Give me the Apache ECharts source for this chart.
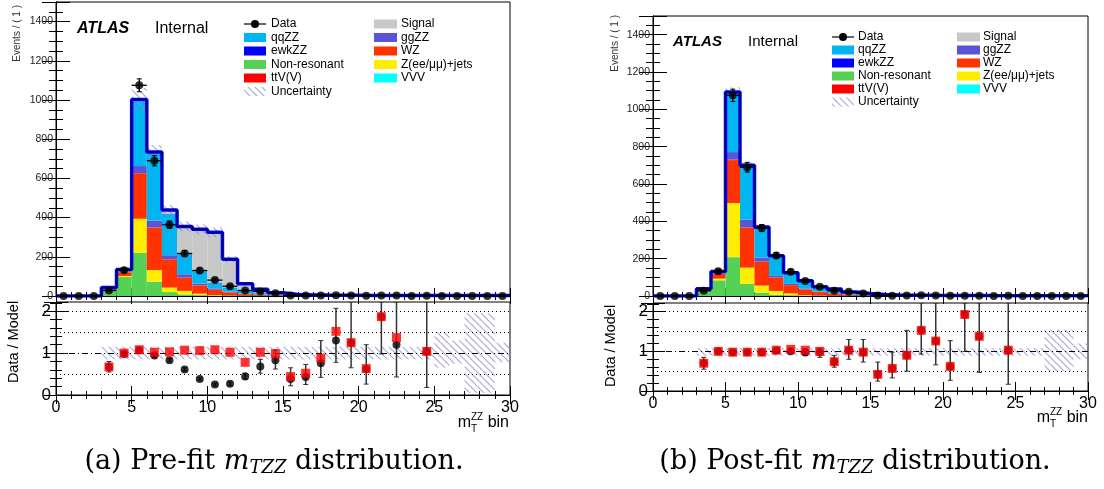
<!DOCTYPE html>
<html>
<head>
<meta charset="utf-8">
<script src="https://cdn.jsdelivr.net/npm/echarts@6/dist/echarts.min.js"></script>
<style>
  html, body { margin: 0; background: #fff; }
  #main { width: 1104px; height: 489px; }
</style>
</head>
<body>
<div id="main"></div>
<script>
// bin index (lower edge of each m_T^ZZ bin)
const bins = [0,1,2,3,4,5,6,7,8,9,10,11,12,13,14,15,16,17,18,19,20,21,22,23,24,25,26,27,28,29];

// ---- pre-fit stack (left) ----
const preNonRes = [0,0,0,27,97,220,73,20,8,4,2,1,0,0,0,0,0,0,0,0,0,0,0,0,0,0,0,0,0,0];
const preZjets  = [0,0,0,2,5,174,59,23,18,8,3,2,1,1,0,0,0,0,0,0,0,0,0,0,0,0,0,0,0,0];
const preWZ     = [0,0,0,5,18,230,216,143,66,42,26,15,8,4,2,1,0.5,0.5,0.3,0.3,0.2,0.2,0.2,0.1,0.1,0.1,0.1,0.1,0.1,0.1];
const preTtV    = [0,0,0,1,2,3,2,2,2,1,1,1,1,0.5,0.5,0,0,0,0,0,0,0,0,0,0,0,0,0,0,0];
const preGgZZ   = [0,0,0,1,3,36,35,20,17,8,7,4,2,1,0.5,0.5,0.3,0.2,0.2,0.1,0.1,0.1,0.1,0.1,0.1,0.1,0.1,0.1,0.1,0.1];
const preQqZZ   = [0,0,0,6,8,328,340,209,101,64,29,20,14,8,5,3,2,1.5,1,1,0.8,0.7,0.6,0.5,0.5,0.4,0.4,0.3,0.3,0.3];
const preEwkZZ  = [0,0,0,0.5,1,2,3,2,2,1,1,1,1,0.5,0.5,0.5,0.3,0.3,0.3,0.3,0.3,0.3,0.3,0.3,0.3,0.3,0.3,0.3,0.3,0.3];
const preVVV    = [0,0,0,0,0,0,0,0,0,0,0,0,0,0,0,0,0,0,0,0,0,0,0,0,0,0,0,0,0,0];
const preSignal = [0,0,0,0.5,1,10,7,20,141,212,256,144,36,19,8.5,2.5,2.2,2,2,2,1.5,1.5,1.5,1.5,1.5,1.6,1.6,1.7,1.7,1.7];
const preUnc    = [0,0,0,5,10,60,35,25,25,25,25,15,8,5,3,2,2,2,2,2,2,2,2,2,2,2,2,2,2,2];

// ---- post-fit stack (right) ----
const postNonRes = [0,0,0,21,84,208,65,18,6,3,1,1,0,0,0,0,0,0,0,0,0,0,0,0,0,0,0,0,0,0];
const postZjets  = [0,0,0,2,9,290,87,38,21,11,4,2,1,1,0,0,0,0,0,0,0,0,0,0,0,0,0,0,0,0];
const postWZ     = [0,0,0,6,25,230,213,127,70,44,30,18,10,5,3,1.5,0.8,0.6,0.4,0.3,0.2,0.2,0.2,0.1,0.1,0.1,0.1,0.1,0.1,0.1];
const postTtV    = [0,0,0,1,2,3,2,2,2,1,1,1,1,0.5,0.5,0,0,0,0,0,0,0,0,0,0,0,0,0,0,0];
const postGgZZ   = [0,0,0,1,3,40,42,21,12,6,3,2,2,1,0.5,0.5,0.3,0.2,0.2,0.1,0.1,0.1,0.1,0.1,0.1,0.1,0.1,0.1,0.1,0.1];
const postQqZZ   = [0,0,0,7,7,320,289,161,102,59,42,25,22,13,9.5,5,4,3,2.5,2,1.5,1.5,1.5,1,1,1,1,1,1,1];
const postEwkZZ  = [0,0,0,1,1,2,3,2,2,1,1,1,1,0.5,0.5,0.5,0.3,0.3,0.3,0.3,0.3,0.3,0.3,0.3,0.3,0.3,0.3,0.3,0.3,0.3];
const postVVV    = [0,0,0,0,0,0,0,0,0,0,0,0,0,0,0,0,0,0,0,0,0,0,0,0,0,0,0,0,0,0];
const postSignal = [0,0,0,0,0,0,0,0,0,0,0,0,0,0,0,0,0,0,0,0,0,0,0,0,0,0,0,0,0,0];
const postUnc    = [0,0,0,3,6,25,15,10,8,6,5,4,3,2,2,1,1,1,1,1,1,1,1,1,1,1,1,1,1,1];

// ---- data ----
const dataVal = [0,0,0,28,132,1075,690,364,217,130,81,50,28,23,14,3,2,3,4,3,1,2,2,0,1,0,0,0,0,0];
const dataErr = [0,0,0,5,12,33,26,19,15,11,9,7,5,5,4,2,1.5,2,2,2,1,1.5,1.5,0,1,0,0,0,0,0];

// ---- ratio panels ----
const preRatioData = [null,null,null,0.67,0.98,1.07,0.94,0.83,0.61,0.38,0.25,0.27,0.44,0.68,0.83,0.38,0.43,0.76,1.30,1.25,0.62,1.87,1.20,null,1.04,null,null,null,null,null];
const preRatioLo   = [null,null,null,0.55,0.94,1.04,0.90,0.79,0.57,0.35,0.22,0.23,0.38,0.52,0.62,0.22,0.25,0.42,0.78,0.65,0.26,0.98,0.43,null,0.18,null,null,null,null,null];
const preRatioHi   = [null,null,null,0.80,1.03,1.10,0.98,0.87,0.65,0.41,0.28,0.31,0.52,0.85,1.08,0.65,0.73,1.30,2.07,2.22,1.20,2.22,2.22,null,2.22,null,null,null,null,null];
const preRatioPost = [null,null,null,0.67,1.00,1.08,1.02,1.03,1.07,1.06,1.08,1.02,0.78,1.02,0.98,0.44,0.52,0.88,1.52,1.25,0.63,1.87,1.37,null,1.04,null,null,null,null,null];
const preBandLo    = [null,null,null,0.85,0.85,0.85,0.85,0.85,0.85,0.85,0.85,0.85,0.85,0.85,0.85,0.85,0.85,0.85,0.85,0.85,0.85,0.85,0.85,0.85,0.85,0.65,0.75,0.05,0.05,0.78];
const preBandHi    = [null,null,null,1.15,1.15,1.15,1.15,1.15,1.15,1.15,1.15,1.15,1.15,1.15,1.15,1.15,1.15,1.15,1.15,1.15,1.15,1.15,1.15,1.15,1.15,1.50,1.30,1.95,1.95,1.25];

const postRatioData = [null,null,null,0.70,1.00,0.98,0.98,0.98,1.02,1.00,0.97,0.98,0.74,1.03,0.98,0.42,0.57,0.90,1.53,1.26,0.62,1.93,1.38,null,1.03,null,null,null,null,null];
const postRatioLo   = [null,null,null,0.55,0.96,0.95,0.95,0.94,0.98,0.96,0.90,0.85,0.60,0.80,0.73,0.25,0.33,0.50,0.93,0.66,0.27,1.00,0.47,null,0.17,null,null,null,null,null];
const postRatioHi   = [null,null,null,0.85,1.04,1.01,1.01,1.02,1.07,1.08,1.07,1.08,0.90,1.30,1.30,0.73,0.98,1.53,2.22,2.22,1.27,2.22,2.22,null,2.22,null,null,null,null,null];
const postRatioPost = [null,null,null,0.70,1.00,0.98,0.98,0.98,1.03,1.05,1.03,1.00,0.74,1.03,0.98,0.42,0.57,0.90,1.53,1.26,0.62,1.93,1.38,null,1.03,null,null,null,null,null];
const postBandLo    = [null,null,null,0.89,0.89,0.89,0.89,0.89,0.89,0.89,0.89,0.89,0.89,0.89,0.89,0.89,0.89,0.89,0.89,0.89,0.89,0.89,0.89,0.89,0.89,0.89,0.89,0.50,0.50,0.80];
const postBandHi    = [null,null,null,1.08,1.08,1.08,1.08,1.08,1.08,1.08,1.08,1.08,1.08,1.08,1.08,1.08,1.08,1.08,1.08,1.08,1.08,1.08,1.08,1.08,1.08,1.08,1.08,1.55,1.55,1.20];

const procNames  = ['Non-resonant', 'Z(ee/μμ)+jets', 'WZ', 'ttV(V)', 'ggZZ', 'qqZZ', 'ewkZZ', 'VVV', 'Signal'];
const procColors = ['#55d155', '#ffee00', '#ff3300', '#ff0000', '#5a54d8', '#00b5f0', '#0000ff', '#00ffff', '#c8c8c8'];

const FONT = 'Liberation Sans, Arial, sans-serif';

// hatch pattern for uncertainty
function makeHatch() {
    const s = 7;
    const c = document.createElement('canvas');
    c.width = s; c.height = s;
    const g = c.getContext('2d');
    g.strokeStyle = 'rgba(140,140,205,0.75)';
    g.lineWidth = 1.2;
    [-s, 0, s].forEach(k => {
        g.beginPath(); g.moveTo(k, 0); g.lineTo(k + s, s); g.stroke();
    });
    return c;
}
const hatch = { image: makeHatch(), repeat: 'repeat' };

function binRect(fill) {
    return function (params, api) {
        const i = api.value(0), a = api.value(1), b = api.value(2);
        if (!(b > a)) return;
        const p0 = api.coord([i, a]), p1 = api.coord([i + 1, b]);
        return {
            type: 'rect',
            shape: { x: p0[0], y: p1[1], width: p1[0] - p0[0], height: p0[1] - p1[1] },
            style: { fill: fill }
        };
    };
}

function errBars(color, lw, cap) {
    return function (params, api) {
        const x = api.value(0), y = api.value(1), lo = api.value(2), hi = api.value(3), hw = api.value(4);
        const c = api.coord([x, y]);
        const kids = [];
        if (hi > lo) {
            const l = api.coord([x, lo]), h = api.coord([x, hi]);
            kids.push({ type: 'line', shape: { x1: c[0], y1: l[1], x2: c[0], y2: h[1] }, style: { stroke: color, lineWidth: lw } });
            if (cap) {
                kids.push({ type: 'line', shape: { x1: c[0] - cap, y1: l[1], x2: c[0] + cap, y2: l[1] }, style: { stroke: color, lineWidth: 1 } });
                kids.push({ type: 'line', shape: { x1: c[0] - cap, y1: h[1], x2: c[0] + cap, y2: h[1] }, style: { stroke: color, lineWidth: 1 } });
            }
        }
        if (hw > 0) {
            const a = api.coord([x - hw, y]), b = api.coord([x + hw, y]);
            kids.push({ type: 'line', shape: { x1: a[0], y1: a[1], x2: b[0], y2: b[1] }, style: { stroke: color, lineWidth: lw } });
        }
        return { type: 'group', children: kids };
    };
}

const option = {
    animation: false,
    grid: [], xAxis: [], yAxis: [], series: [], graphic: []
};

function addAxes(grid, up) {
    const gi = option.grid.length;
    option.grid.push(Object.assign({ show: true, borderColor: '#000', borderWidth: 1, backgroundColor: 'transparent' }, grid));
    const xBase = {
        gridIndex: gi, type: 'value', min: 0, max: 30, interval: 5,
        axisLine: { show: true, lineStyle: { color: '#000', width: 1 } },
        splitLine: { show: false },
        axisTick: { inside: true, length: up ? 8 : 9, lineStyle: { color: '#000' } },
        minorTick: { show: true, splitNumber: 5, length: 4, lineStyle: { color: '#000' } }
    };
    const xi = option.xAxis.length;
    option.xAxis.push(Object.assign({}, xBase, {
        position: 'bottom',
        axisLabel: up ? { show: false } : { show: true, fontSize: 16, fontFamily: FONT, color: '#000', margin: 5 }
    }));
    option.xAxis.push(Object.assign({}, xBase, { position: 'top', axisLabel: { show: false } }));

    const yBase = up ? {
        gridIndex: gi, type: 'value', min: 0, max: 1500, interval: 200,
        axisLine: { show: true, lineStyle: { color: '#000' } },
        splitLine: { show: false },
        axisTick: { inside: true, length: 14, lineStyle: { color: '#000' } },
        minorTick: { show: true, splitNumber: 4, length: 7, lineStyle: { color: '#000' } }
    } : {
        gridIndex: gi, type: 'value', min: 0, max: 2.22, interval: 1,
        axisLine: { show: true, lineStyle: { color: '#000' } },
        splitLine: { show: false },
        axisTick: { inside: true, length: 12, lineStyle: { color: '#000' } },
        minorTick: { show: true, splitNumber: 5, length: 6, lineStyle: { color: '#000' } }
    };
    const yi = option.yAxis.length;
    option.yAxis.push(Object.assign({}, yBase, {
        position: 'left',
        axisLabel: up
            ? { fontSize: 10.5, fontFamily: FONT, color: '#222', margin: 3, formatter: v => (v % 200 === 0 ? String(v) : '') }
            : { fontSize: 17, fontFamily: FONT, color: '#000', margin: 5, formatter: v => (Math.abs(v - Math.round(v)) < 1e-6 ? String(Math.round(v)) : '') }
    }));
    option.yAxis.push(Object.assign({}, yBase, { position: 'right', axisLabel: { show: false } }));
    return { xi, yi };
}

function buildPanel(cfg) {
    const up = addAxes(cfg.upGrid, true);
    const lo = addAxes(cfg.loGrid, false);

    // stacked histogram
    const base = bins.map(() => 0);
    cfg.stack.forEach((arr, k) => {
        const data = bins.map(i => [i, base[i], base[i] + arr[i]]);
        bins.forEach(i => { base[i] += arr[i]; });
        option.series.push({
            type: 'custom', name: procNames[k], xAxisIndex: up.xi, yAxisIndex: up.yi,
            renderItem: binRect(procColors[k]), encode: { x: 0, y: [1, 2] },
            data: data, z: 2, silent: true
        });
    });
    const total = base.slice();

    // uncertainty hatch
    option.series.push({
        type: 'custom', xAxisIndex: up.xi, yAxisIndex: up.yi,
        renderItem: binRect(hatch), encode: { x: 0, y: [1, 2] },
        data: bins.filter(i => cfg.unc[i] > 0).map(i => [i, total[i] - cfg.unc[i], total[i] + cfg.unc[i]]),
        z: 3, silent: true
    });

    // outline of the total
    const stepData = bins.map(i => [i, total[i]]).concat([[30, total[29]]]);
    option.series.push({
        type: 'line', xAxisIndex: up.xi, yAxisIndex: up.yi, step: 'end', symbol: 'none',
        data: stepData, lineStyle: { color: '#0000ff', width: 3.5 }, z: 4, silent: true
    });
    option.series.push({
        type: 'line', xAxisIndex: up.xi, yAxisIndex: up.yi, step: 'end', symbol: 'none',
        data: stepData, lineStyle: { color: '#000', width: 0.8 }, z: 4, silent: true
    });

    // data with error bars
    option.series.push({
        type: 'custom', xAxisIndex: up.xi, yAxisIndex: up.yi,
        renderItem: errBars('#000', 1.3, 2.5), encode: { x: 0, y: 1 },
        data: bins.map(i => [i + 0.5, dataVal[i], dataVal[i] - dataErr[i], dataVal[i] + dataErr[i], 0.5]),
        z: 5, silent: true
    });
    option.series.push({
        type: 'scatter', xAxisIndex: up.xi, yAxisIndex: up.yi, symbol: 'circle', symbolSize: 8,
        itemStyle: { color: '#000' }, data: bins.map(i => [i + 0.5, dataVal[i]]), z: 6, silent: true
    });

    // ratio band + reference lines
    option.series.push({
        type: 'custom', xAxisIndex: lo.xi, yAxisIndex: lo.yi,
        renderItem: binRect(hatch), encode: { x: 0, y: [1, 2] },
        data: bins.filter(i => cfg.bandLo[i] !== null).map(i => [i, cfg.bandLo[i], cfg.bandHi[i]]),
        z: 2, silent: true,
        markLine: {
            silent: true, symbol: 'none', label: { show: false }, animation: false,
            data: [
                { yAxis: 0.5, lineStyle: { color: '#000', width: 1, type: [1, 3] } },
                { yAxis: 1.5, lineStyle: { color: '#000', width: 1, type: [1, 3] } },
                { yAxis: 2, lineStyle: { color: '#000', width: 1, type: [1, 3] } },
                { yAxis: 1, lineStyle: { color: '#000', width: 1, type: [6, 3, 1, 3] } }
            ]
        }
    });
    const ok = bins.filter(i => cfg.ratio[i] !== null);
    option.series.push({
        type: 'custom', xAxisIndex: lo.xi, yAxisIndex: lo.yi, clip: true,
        renderItem: errBars('#333', 1.5, 2.5), encode: { x: 0, y: 1 },
        data: ok.map(i => [i + 0.5, cfg.ratio[i], cfg.ratioLo[i], cfg.ratioHi[i], 0]),
        z: 4, silent: true
    });
    option.series.push({
        type: 'scatter', xAxisIndex: lo.xi, yAxisIndex: lo.yi, symbol: 'circle', symbolSize: 8,
        itemStyle: { color: '#000' }, data: ok.map(i => [i + 0.5, cfg.ratio[i]]), z: 5, silent: true
    });
    option.series.push({
        type: 'scatter', xAxisIndex: lo.xi, yAxisIndex: lo.yi, symbol: 'rect', symbolSize: 9,
        itemStyle: { color: '#ff0000' }, data: ok.map(i => [i + 0.5, cfg.ratioPost[i]]), z: 6, silent: true
    });
}

buildPanel({
    upGrid: { left: 56, top: 2, width: 454, height: 294 },
    loGrid: { left: 56, top: 302, width: 454, height: 93 },
    stack: [preNonRes, preZjets, preWZ, preTtV, preGgZZ, preQqZZ, preEwkZZ, preVVV, preSignal],
    unc: preUnc, ratio: preRatioData, ratioLo: preRatioLo, ratioHi: preRatioHi, ratioPost: preRatioPost,
    bandLo: preBandLo, bandHi: preBandHi
});
buildPanel({
    upGrid: { left: 653, top: 16, width: 435, height: 280 },
    loGrid: { left: 653, top: 303, width: 435, height: 88 },
    stack: [postNonRes, postZjets, postWZ, postTtV, postGgZZ, postQqZZ, postEwkZZ, postVVV, postSignal],
    unc: postUnc, ratio: postRatioData, ratioLo: postRatioLo, ratioHi: postRatioHi, ratioPost: postRatioPost,
    bandLo: postBandLo, bandHi: postBandHi
});

// ---- texts / legends ----
const mctx = document.createElement('canvas').getContext('2d');
function textRow(parts, x, y, anchor) {
    let w = 0;
    parts.forEach(p => {
        mctx.font = (p.style || 'normal') + ' ' + (p.weight || 'normal') + ' ' + p.size + 'px ' + p.family;
        p.w = mctx.measureText(p.t).width;
        w += p.w;
    });
    let cx = anchor === 'right' ? x - w : anchor === 'center' ? x - w / 2 : x;
    return parts.map(p => {
        const el = {
            type: 'text', x: cx, y: y + (p.dy || 0), silent: true,
            style: {
                text: p.t, fontSize: p.size, fontFamily: p.family, fontStyle: p.style || 'normal',
                fontWeight: p.weight || 'normal', fill: '#000', align: 'left', verticalAlign: 'middle'
            }
        };
        cx += p.w;
        return el;
    });
}
function txt(t, x, y, size, extra) {
    return Object.assign({ type: 'text', x: x, y: y, silent: true,
        style: Object.assign({ text: t, fontSize: size, fontFamily: FONT, fill: '#000', align: 'left', verticalAlign: 'middle' }, extra || {}) });
}

function legend(bx, tx, bx2, tx2, rows) {
    const g = option.graphic;
    const lc = (n) => procColors[procNames.indexOf(n)];
    g.push({ type: 'line', silent: true, shape: { x1: bx, y1: rows[0], x2: bx + 22, y2: rows[0] }, style: { stroke: '#000', lineWidth: 1.2 } });
    g.push({ type: 'circle', silent: true, shape: { cx: bx + 11, cy: rows[0], r: 4 }, style: { fill: '#000' } });
    g.push(txt('Data', tx, rows[0], 12));
    ['qqZZ', 'ewkZZ', 'Non-resonant', 'ttV(V)'].forEach((n, k) => {
        g.push({ type: 'rect', silent: true, shape: { x: bx, y: rows[k + 1] - 4.5, width: 22, height: 9 }, style: { fill: lc(n) } });
        g.push(txt(n, tx, rows[k + 1], 12));
    });
    g.push({ type: 'rect', silent: true, shape: { x: bx, y: rows[5] - 4.5, width: 22, height: 9 }, style: { fill: hatch } });
    g.push(txt('Uncertainty', tx, rows[5], 12));
    ['Signal', 'ggZZ', 'WZ', 'Z(ee/μμ)+jets', 'VVV'].forEach((n, k) => {
        g.push({ type: 'rect', silent: true, shape: { x: bx2, y: rows[k] - 4.5, width: 23, height: 9 }, style: { fill: lc(n) } });
        g.push(txt(n, tx2, rows[k], 12));
    });
}

legend(244, 271, 374, 401, [24, 37.5, 51, 64.5, 78, 91.5]);
legend(832, 858, 957, 983, [37, 50, 63, 76, 89, 102]);

const G = option.graphic;
G.push(txt('ATLAS', 77, 29, 16, { fontStyle: 'italic', fontWeight: 'bold' }));
G.push(txt('Internal', 155, 29, 16));
G.push(txt('ATLAS', 673, 42, 15, { fontStyle: 'italic', fontWeight: 'bold' }));
G.push(txt('Internal', 748, 42, 15));

// axis titles
function rotated(el) { el.rotation = Math.PI / 2; return el; }
G.push(rotated(txt('Events / ( 1 )', 17, 5, 10, { align: 'right', fill: '#333' })));
G.push(rotated(txt('Events / ( 1 )', 615, 15, 10, { align: 'right', fill: '#333' })));
G.push(rotated(txt('Data / Model', 14, 342, 14.5, { align: 'center' })));
G.push(rotated(txt('Data / Model', 611, 346, 14.5, { align: 'center' })));

// m_T^ZZ bin
function mTitle(xr, y) {
    const els = textRow([
        { t: 'm', size: 16, family: FONT },
        { t: 'ZZ', size: 10, family: FONT, dy: -6 },
        { t: ' bin', size: 16, family: FONT }
    ], xr, y, 'right');
    els.push({ type: 'text', x: els[1].x, y: y + 6, silent: true,
        style: { text: 'T', fontSize: 10, fontFamily: FONT, fill: '#000', align: 'left', verticalAlign: 'middle' } });
    return els;
}
mTitle(509, 423).forEach(e => G.push(e));
mTitle(1088, 418).forEach(e => G.push(e));

// captions
const SERIF = 'DejaVu Serif, Liberation Serif, serif';
function caption(lbl, word, cx, y) {
    return textRow([
        { t: lbl + ' ' + word + ' ', size: 27, family: SERIF },
        { t: 'm', size: 27, family: SERIF, style: 'italic' },
        { t: 'TZZ', size: 18, family: SERIF, style: 'italic', dy: 6 },
        { t: ' distribution.', size: 27, family: SERIF }
    ], cx, y, 'center');
}
caption('(a)', 'Pre-fit', 274, 462).forEach(e => G.push(e));
caption('(b)', 'Post-fit', 855, 462).forEach(e => G.push(e));

const chart = echarts.init(document.getElementById('main'), null, { renderer: 'canvas' });
chart.setOption(option);
</script>
</body>
</html>
